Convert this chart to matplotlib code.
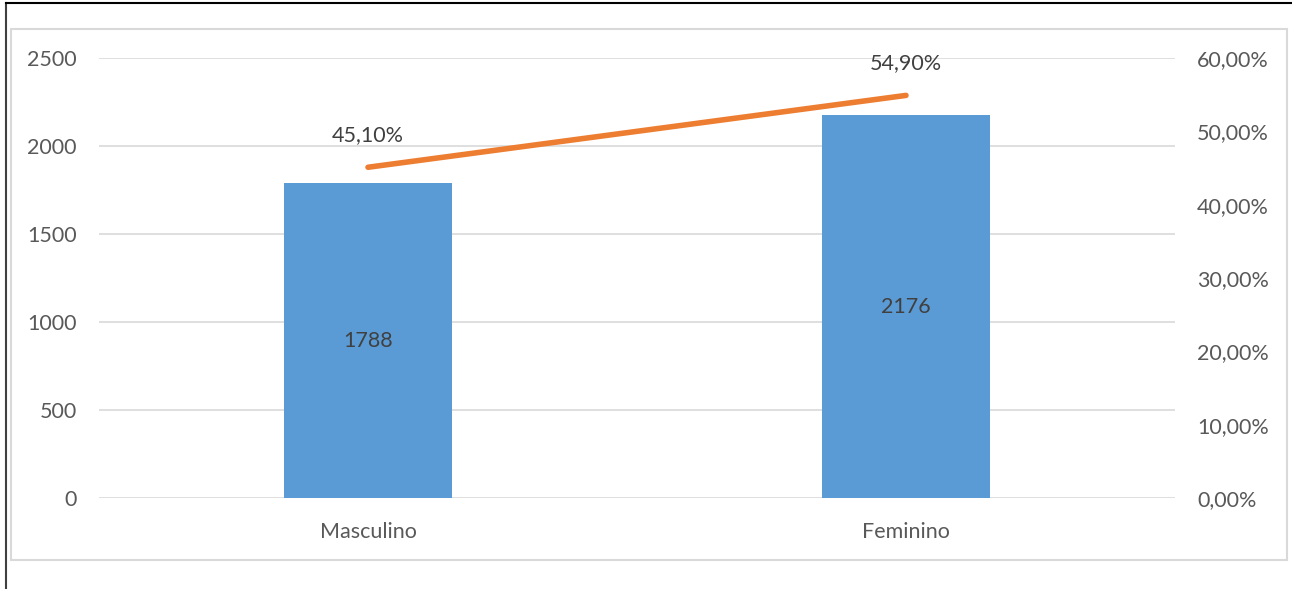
import matplotlib.pyplot as plt
from matplotlib.patches import Rectangle
from matplotlib.lines import Line2D

# dados
categorias = ["Masculino", "Feminino"]
quantidade = [1788, 2176]
percentual = [45.10, 54.90]

cor_barra = "#5B9BD5"
cor_linha = "#ED7D31"
cor_texto = "#595959"
cor_grade = "#D9D9D9"
tam = 15.5

plt.rcParams['font.family'] = ['Lato', 'DejaVu Sans']

fig = plt.figure(figsize=(12.92, 5.89), dpi=100)
ax = fig.add_axes([99 / 1292, 1 - 498 / 589, 1076 / 1292, 440 / 589])

x = list(range(len(categorias)))
barras = ax.bar(x, quantidade, width=0.312, color=cor_barra, zorder=2)
ax.set_xlim(-0.5, 1.5)
ax.set_ylim(0, 2500)
ax.set_yticks(range(0, 2501, 500))
ax.set_xticks(x)
ax.set_xticklabels(categorias)
ax.grid(axis="y", color=cor_grade, linewidth=1.2, zorder=0)
for s in ax.spines.values():
    s.set_visible(False)
ax.tick_params(axis="both", length=0, labelsize=tam, colors=cor_texto)
ax.tick_params(axis="y", pad=16)
ax.tick_params(axis="x", pad=17)

for b, v in zip(barras, quantidade):
    ax.text(b.get_x() + b.get_width() / 2, v / 2, str(v), ha="center",
            va="center", fontsize=tam, color="#404040", zorder=3)

ax2 = ax.twinx()
ax2.plot(x, percentual, color=cor_linha, linewidth=4, solid_capstyle="round", zorder=4)
ax2.set_ylim(0, 60)
ax2.set_yticks(range(0, 61, 10))
ax2.set_yticklabels([f"{t},00%" for t in range(0, 61, 10)])
for s in ax2.spines.values():
    s.set_visible(False)
ax2.tick_params(axis="y", length=0, labelsize=tam, colors=cor_texto, pad=16)

for xi, p in zip(x, percentual):
    ax2.annotate(f"{p:.2f}%".replace(".", ","), (xi, p), xytext=(0, 23),
                 textcoords="offset points", ha="center", va="center",
                 fontsize=tam, color="#404040")

# moldura
fig.patches.append(Rectangle((11 / 1292, 1 - 560 / 589), 1276 / 1292, 531 / 589,
                             transform=fig.transFigure, fill=False,
                             edgecolor=cor_grade, linewidth=1.5))
fig.lines.append(Line2D([6 / 1292, 6 / 1292], [0, 1 - 3 / 589],
                        transform=fig.transFigure, color="#404040", linewidth=1.5))
fig.lines.append(Line2D([6 / 1292, 1], [1 - 3 / 589, 1 - 3 / 589],
                        transform=fig.transFigure, color="black", linewidth=1.5))

fig.savefig("out.png", dpi=100)
